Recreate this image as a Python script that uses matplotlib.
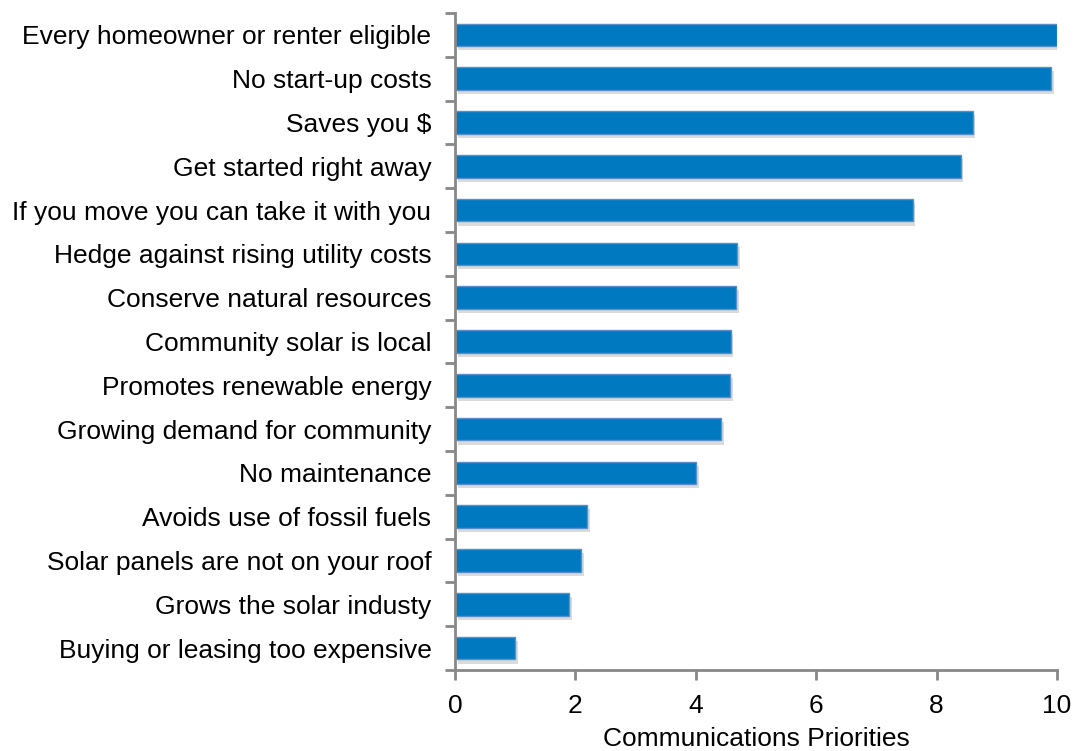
import matplotlib
matplotlib.use("Agg")
import matplotlib.pyplot as plt
import matplotlib.patheffects as pe
import numpy as np

plt.rcParams['font.family'] = ['Liberation Sans', 'DejaVu Sans']

categories = [
    "Every homeowner or renter eligible",
    "No start-up costs",
    "Saves you $",
    "Get started right away",
    "If you move you can take it with you",
    "Hedge against rising utility costs",
    "Conserve natural resources",
    "Community solar is local",
    "Promotes renewable energy",
    "Growing demand for community",
    "No maintenance",
    "Avoids use of fossil fuels",
    "Solar panels are not on your roof",
    "Grows the solar industy",
    "Buying or leasing too expensive",
]
values = [10.0, 9.9, 8.6, 8.4, 7.6, 4.68, 4.67, 4.58, 4.57, 4.42, 4.0, 2.2, 2.1, 1.9, 1.0]
xticks = [0, 2, 4, 6, 8, 10]
xlabel = "Communications Priorities"

fig = plt.figure(figsize=(10.74, 7.51), dpi=100)
ax = fig.add_axes([455/1074, 1 - 670/751, (1057-455)/1074, (670-13)/751])

n = len(categories)
ypos = np.arange(n)[::-1]
bars = ax.barh(ypos, values, height=0.52, color='#0079C1', edgecolor='#5B8FCB', linewidth=1.0)
for b in bars:
    b.set_path_effects([pe.SimplePatchShadow(offset=(2, -3), shadow_rgbFace='#888888', alpha=0.3), pe.Normal()])

fs = 19
ax.set_xlim(0, 10)
ax.set_ylim(-0.5, n - 0.5)
ax.set_xticks(xticks)
ax.set_xticklabels([str(t) for t in xticks], fontsize=fs)
ax.set_yticks(ypos)
ax.set_yticklabels(categories, fontsize=fs)
ax.tick_params(axis='y', length=0, pad=17)
ax.set_yticks(np.arange(-0.5, n, 1.0), minor=True)
ax.tick_params(axis='y', which='minor', length=7, width=2, color='#888888')
ax.tick_params(axis='x', length=7, width=2, color='#888888', pad=10)

for s in ['top', 'right']:
    ax.spines[s].set_visible(False)
for s in ['left', 'bottom']:
    ax.spines[s].set_color('#888888')
    ax.spines[s].set_linewidth(2)

ax.set_xlabel(xlabel, fontsize=fs, labelpad=7)

fig.savefig("out.png", dpi=100)
